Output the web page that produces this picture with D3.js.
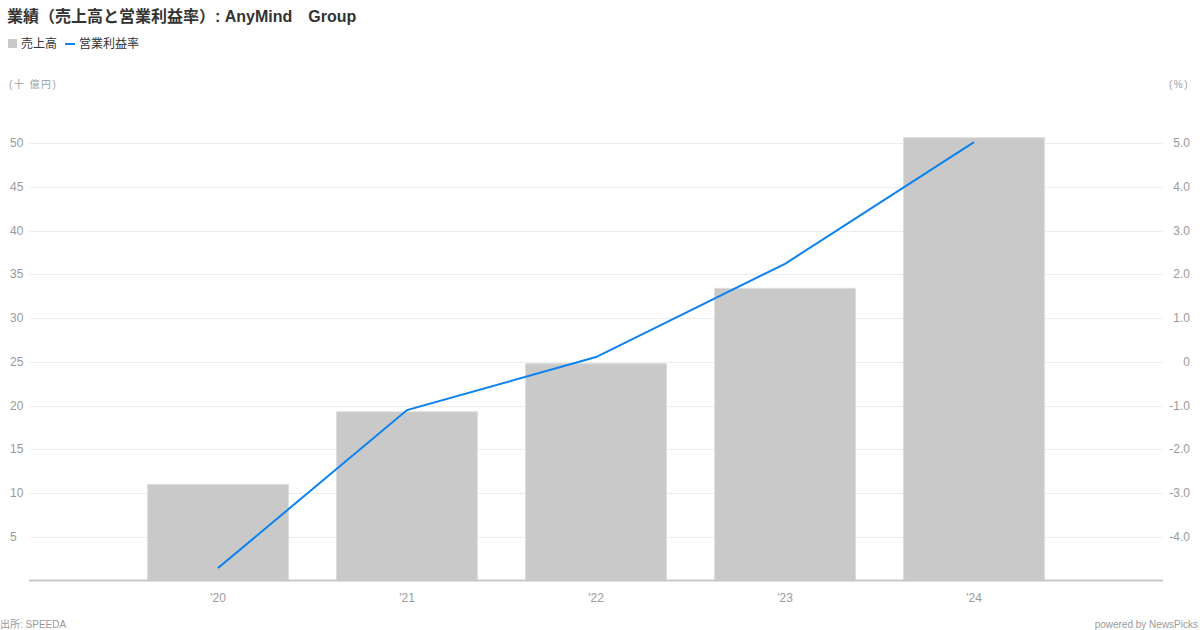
<!DOCTYPE html>
<html><head><meta charset="utf-8">
<script src="https://cdn.jsdelivr.net/npm/d3@7"></script>
<style>
body{margin:0;background:#fff;}
text{font-family:"Liberation Sans","Noto Sans CJK JP",sans-serif;}
</style></head>
<body><svg id="c" width="1200" height="630"></svg>
<script>
const categories = ["'20","'21","'22","'23","'24"];
const sales = [11.0, 19.3, 24.8, 33.4, 50.6];
const margin = [-4.71, -1.10, 0.11, 2.24, 5.02];
const leftTicks = [5,10,15,20,25,30,35,40,45,50];
const rightTicks = [-4,-3,-2,-1,0,1,2,3,4,5];

const svg = d3.select("#c");
const x0 = 29, x1 = 1163, yTop = 143, yBase = 580.8;
const yL = d3.scaleLinear().domain([0,50]).range([yBase, yTop]);
const yR = d3.scaleLinear().domain([-5,5]).range([yBase, yTop]);
const x = d3.scalePoint().domain(["_s", ...categories, "_e"]).range([x0, x1]);
const step = x.step();
const bw = step * 0.745;

// gridlines
svg.append("g").selectAll("line").data(leftTicks).join("line")
  .attr("x1", x0).attr("x2", x1)
  .attr("y1", d => Math.round(yL(d))+0.5).attr("y2", d => Math.round(yL(d))+0.5)
  .attr("stroke", "#ececec").attr("stroke-width", 1);

// left labels
svg.append("g").selectAll("text").data(leftTicks).join("text")
  .attr("x", 10).attr("y", d => yL(d)+4)
  .attr("font-size", 12).attr("fill", "#9a9a9a").text(d => d);

// right labels
svg.append("g").selectAll("text").data(rightTicks).join("text")
  .attr("x", 1190).attr("y", d => yR(d)+4).attr("text-anchor", "end")
  .attr("font-size", 12).attr("fill", "#9a9a9a")
  .text(d => d === 0 ? "0" : d3.format(".1f")(d).replace("\u2212", "-"));

// bars
svg.append("g").selectAll("rect").data(categories).join("rect")
  .attr("x", d => x(d) - bw/2).attr("width", bw)
  .attr("y", (d,i) => yL(sales[i])).attr("height", (d,i) => yBase - yL(sales[i]))
  .attr("fill", "#c9c9c9").attr("stroke", "#dcdcdc").attr("stroke-width", 1);

// baseline
svg.append("line").attr("x1", x0).attr("x2", x1).attr("y1", 580.5).attr("y2", 580.5)
  .attr("stroke", "#c8c8c8").attr("stroke-width", 2);

// line
const line = d3.line().x(d => x(d.c)).y(d => yR(d.v));
svg.append("path").datum(categories.map((c,i) => ({c, v: margin[i]})))
  .attr("d", line).attr("fill", "none").attr("stroke", "#0a82f0").attr("stroke-width", 2);

// x labels
svg.append("g").selectAll("text").data(categories).join("text")
  .attr("x", d => x(d)).attr("y", 602).attr("text-anchor", "middle")
  .attr("font-size", 12).attr("fill", "#9a9a9a").text(d => d);

// title
svg.append("text").attr("x", 7).attr("y", 22).attr("font-size", 16).attr("font-weight", "bold")
  .attr("fill", "#333").text("業績（売上高と営業利益率）: AnyMind\u3000Group");

// legend
svg.append("rect").attr("x", 8).attr("y", 39).attr("width", 9).attr("height", 9).attr("fill", "#c9c9c9");
svg.append("text").attr("x", 21).attr("y", 48).attr("font-size", 12).attr("fill", "#333").text("売上高");
svg.append("line").attr("x1", 65).attr("x2", 75).attr("y1", 44).attr("y2", 44).attr("stroke", "#0a82f0").attr("stroke-width", 2);
svg.append("text").attr("x", 79).attr("y", 48).attr("font-size", 12).attr("fill", "#333").text("営業利益率");

// units
svg.append("text").attr("x", 9).attr("y", 88).attr("font-size", 10).attr("fill", "#a0a0a0")
  .attr("letter-spacing", "1.5px").text("(十 億円)");
svg.append("text").attr("x", 1189).attr("y", 88).attr("text-anchor", "end").attr("font-size", 10).attr("fill", "#a0a0a0")
  .attr("letter-spacing", "1.5px").text("(%)");

// footer
svg.append("text").attr("x", 0).attr("y", 628).attr("font-size", 10).attr("fill", "#999").text("出所: SPEEDA");
svg.append("text").attr("x", 1198).attr("y", 628).attr("text-anchor", "end").attr("font-size", 10).attr("fill", "#999").text("powered by NewsPicks");
</script></body></html>
